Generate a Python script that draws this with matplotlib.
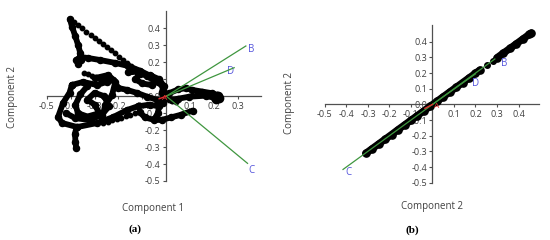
import matplotlib
matplotlib.use("Agg")
import matplotlib.pyplot as plt

plt.rcParams['font.family'] = ['Open Sans', 'DejaVu Sans']
plt.rcParams['axes.unicode_minus'] = False

# ---- panel (a): score trajectory ----
a_top_x = [-0.403, -0.394, -0.381, -0.369, -0.360, -0.356, -0.369, -0.377, -0.360, -0.327,
           -0.276, -0.213, -0.159, -0.108, -0.066, -0.033, -0.012, -0.003]
a_top_y = [0.454, 0.408, 0.355, 0.302, 0.255, 0.213, 0.190, 0.213, 0.231, 0.225,
           0.213, 0.196, 0.178, 0.149, 0.119, 0.084, 0.048, 0.007]
a_dots1_x = [-0.386, -0.368, -0.352, -0.334, -0.316, -0.300, -0.283, -0.265, -0.249,
             -0.232, -0.214, -0.198, -0.181, -0.163, -0.147, -0.130, -0.113]
a_dots1_y = [0.438, 0.419, 0.401, 0.381, 0.363, 0.345, 0.327, 0.307, 0.290,
             0.271, 0.252, 0.234, 0.216, 0.196, 0.178, 0.160, 0.141]
a_dots2_x = [-0.345, -0.328, -0.311, -0.294, -0.277, -0.262]
a_dots2_y = [0.138, 0.130, 0.121, 0.112, 0.104, 0.097]
a_mid_x = [-0.395, -0.348, -0.290, -0.248, -0.243, -0.222, -0.200, -0.164, -0.122,
           -0.080, -0.038, -0.012]
a_mid_y = [0.066, 0.084, 0.066, 0.085, 0.113, 0.096, 0.048, 0.037, 0.019,
           -0.003, -0.022, -0.040]
a_left_x = [-0.395, -0.405, -0.432, -0.453, -0.436, -0.373, -0.289, -0.222, -0.163,
            -0.120, -0.070, -0.030]
a_left_y = [0.066, 0.020, -0.040, -0.123, -0.158, -0.182, -0.158, -0.123, -0.081,
            -0.060, -0.050, -0.060]
a_spike_x = [-0.375, -0.382, -0.380, -0.377]
a_spike_y = [-0.180, -0.220, -0.270, -0.307]
a_dots3_x = [-0.264, -0.245, -0.226, -0.207, -0.188, -0.169, -0.150, -0.131, -0.112]
a_dots3_y = [-0.158, -0.150, -0.142, -0.134, -0.126, -0.117, -0.108, -0.100, -0.092]
a_inner_x = [-0.33, -0.36, -0.38, -0.37, -0.33, -0.28, -0.30, -0.33, -0.30, -0.26,
             -0.24, -0.27, -0.32, -0.38, -0.42]
a_inner_y = [0.06, 0.01, -0.05, -0.10, -0.12, -0.10, -0.05, -0.02, 0.02, 0.00,
             -0.06, -0.11, -0.14, -0.13, -0.10]
a_wave_x = [-0.297, -0.243, -0.213, -0.227, -0.255, -0.269]
a_wave_y = [0.107, 0.125, 0.085, 0.007, -0.052, -0.129]
a_knot_x = [-0.16, -0.12, -0.08, -0.05, -0.06, -0.10, -0.13, -0.11, -0.07, -0.03, -0.01, -0.02]
a_knot_y = [0.14, 0.145, 0.12, 0.09, 0.065, 0.075, 0.10, 0.13, 0.125, 0.10, 0.06, 0.02]
a_low_x = [-0.112, -0.09, -0.05, -0.02, 0.02, 0.06, 0.11]
a_low_y = [-0.092, -0.125, -0.14, -0.14, -0.125, -0.11, -0.085]
a_hook_x = [-0.01, -0.03, -0.035, -0.05]
a_hook_y = [0.0, -0.05, -0.10, -0.135]
a_lobe_x = [0.0, 0.011, 0.05, 0.081, 0.109, 0.151, 0.193, 0.214, 0.22, 0.214, 0.165,
            0.095, 0.05, 0.025, 0.005]
a_lobe_y = [0.0, 0.017, 0.04, 0.047, 0.037, 0.027, 0.017, 0.007, -0.01, -0.015, 0.003,
            -0.003, -0.015, -0.022, -0.01]
a_blob_x = [0.205, 0.215, 0.222, 0.21]
a_blob_y = [-0.005, 0.002, -0.01, -0.014]
a_dots4_x = [0.01, 0.025, 0.04]
a_dots4_y = [-0.02, -0.027, -0.033]

# loading vectors (a)
a_vec = {'B': (0.333, 0.296), 'C': (0.34, -0.396), 'D': (0.284, 0.168)}
a_lab = {'B': (0.357, 0.275), 'C': (0.357, -0.437), 'D': (0.27, 0.148)}

# ---- panel (b) ----
b_low_x = [-0.31, -0.28, -0.25, -0.22, -0.19, -0.16, -0.13, -0.10, -0.07, -0.04, -0.01,
           0.02, 0.05, 0.08, 0.11, 0.14, 0.17, 0.20, 0.22]
b_low_y = [-0.312, -0.282, -0.252, -0.222, -0.192, -0.161, -0.131, -0.101, -0.071, -0.041,
           -0.011, 0.019, 0.049, 0.079, 0.109, 0.139, 0.169, 0.199, 0.219]
b_gap_x = [0.255, 0.28]
b_gap_y = [0.253, 0.278]
b_high_x = [0.30, 0.33, 0.36, 0.39, 0.42, 0.45, 0.46]
b_high_y = [0.298, 0.328, 0.357, 0.387, 0.417, 0.447, 0.455]

b_vec = {'B': (0.29, 0.29), 'C': (-0.416, -0.415), 'D': (0.2, 0.195)}
b_lab = {'B': (0.335, 0.262), 'C': (-0.39, -0.435), 'D': (0.2, 0.135)}

green = '#3f963f'
blue = '#5454dc'
txt = '#404040'


def setup(ax, xr, yr, xticks, yticks):
    ax.set_xlim(-0.52, xr + 0.02)
    ax.set_ylim(-0.52, 0.52)
    for s in ['top', 'right']:
        ax.spines[s].set_visible(False)
    ax.spines['left'].set_position(('data', 0))
    ax.spines['bottom'].set_position(('data', 0))
    ax.spines['bottom'].set_bounds(-0.5, xr)
    ax.spines['left'].set_bounds(-0.5, yr)
    for s in ['left', 'bottom']:
        ax.spines[s].set_color('#505050')
        ax.spines[s].set_linewidth(0.9)
    ax.set_xticks(xticks)
    ax.set_yticks(yticks)
    ax.set_xticklabels(['%.1f' % t for t in xticks])
    ax.set_yticklabels(['%.1f' % t for t in yticks])
    ax.tick_params(labelsize=6.5, colors='#505050', labelcolor=txt, length=2.5, width=0.8, pad=1.5)
    ax.patch.set_visible(False)


def path(ax, x, y, lw=4.2, ms=4.4):
    ax.plot(x, y, '-', color='black', lw=lw, marker='o', ms=ms, zorder=3,
            solid_capstyle='round', solid_joinstyle='round', clip_on=False)


def dots(ax, x, y, ms=3.2):
    ax.plot(x, y, 'o', color='black', ms=ms, zorder=3, clip_on=False)


fig = plt.figure(figsize=(5.5, 2.4), dpi=100)

axa = fig.add_axes([0.0764, 0.2317, 0.4067, 0.735])
setup(axa, 0.396, 0.5, [-0.5, -0.4, -0.3, -0.2, -0.1, 0.1, 0.2, 0.3],
      [-0.5, -0.4, -0.3, -0.2, -0.1, 0.0, 0.1, 0.2, 0.3, 0.4])
for sx, sy in [(a_top_x, a_top_y), (a_mid_x, a_mid_y), (a_left_x, a_left_y),
               (a_spike_x, a_spike_y), (a_inner_x, a_inner_y), (a_wave_x, a_wave_y),
               (a_knot_x, a_knot_y), (a_low_x, a_low_y), (a_hook_x, a_hook_y),
               (a_lobe_x, a_lobe_y)]:
    path(axa, sx, sy)
path(axa, a_blob_x, a_blob_y, lw=6, ms=6)
for sx, sy in [(a_dots1_x, a_dots1_y), (a_dots2_x, a_dots2_y), (a_dots3_x, a_dots3_y),
               (a_dots4_x, a_dots4_y)]:
    dots(axa, sx, sy)
for k, (vx, vy) in a_vec.items():
    axa.plot([0, vx], [0, vy], color=green, lw=0.9, zorder=4)
    axa.text(a_lab[k][0], a_lab[k][1], k, color=blue, fontsize=7, ha='center', va='center')
axa.plot([0, -0.03], [0, -0.015], color='#e03030', lw=1.0, zorder=5)
axa.text(-0.005, -0.012, 'A', color='#e03030', fontsize=6, ha='center', va='center', zorder=5)

axb = fig.add_axes([0.583, 0.2254, 0.4047, 0.679])
setup(axb, 0.495, 0.507, [-0.5, -0.4, -0.3, -0.2, -0.1, 0.1, 0.2, 0.3, 0.4],
      [-0.5, -0.4, -0.3, -0.2, -0.1, 0.0, 0.1, 0.2, 0.3, 0.4])
path(axb, b_low_x, b_low_y, lw=5.2, ms=5.2)
path(axb, b_high_x, b_high_y, lw=5.2, ms=5.2)
dots(axb, b_gap_x, b_gap_y, ms=4)
for k, (vx, vy) in b_vec.items():
    axb.plot([0, vx], [0, vy], color=green, lw=0.9, zorder=4)
    axb.text(b_lab[k][0], b_lab[k][1], k, color=blue, fontsize=7, ha='center', va='center',
             zorder=5)
axb.plot([0, -0.035], [0, -0.025], color='#e03030', lw=1.0, zorder=5)
axb.text(0.02, -0.012, 'A', color='#e03030', fontsize=6, ha='center', va='center', zorder=5)

fig.text(0.278, 0.133, 'Component 1', fontsize=7, color=txt, ha='center', va='center')
fig.text(0.022, 0.596, 'Component 2', fontsize=7, color=txt, ha='center', va='center', rotation=90)
fig.text(0.785, 0.1375, 'Component 2', fontsize=7, color=txt, ha='center', va='center')
fig.text(0.527, 0.571, 'Component 2', fontsize=7, color=txt, ha='center', va='center', rotation=90)
fig.text(0.245, 0.046, '(a)', fontsize=8, fontweight='bold', family='Liberation Serif',
         ha='center', va='center')
fig.text(0.749, 0.042, '(b)', fontsize=8, fontweight='bold', family='Liberation Serif',
         ha='center', va='center')

fig.savefig('out.png', dpi=100)
